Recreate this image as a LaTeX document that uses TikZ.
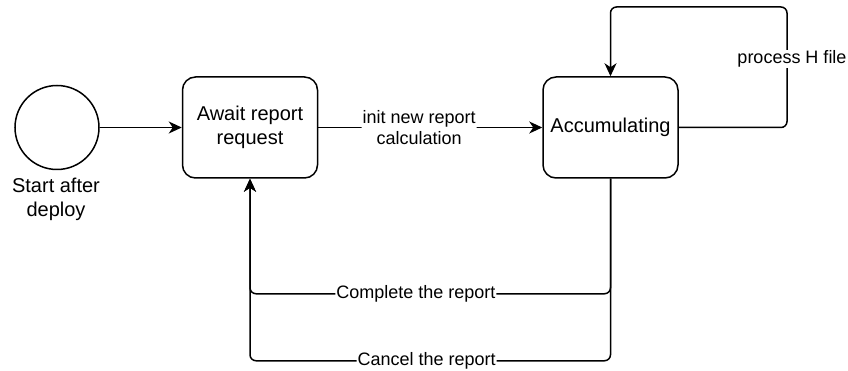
\documentclass[tikz,border=0pt]{standalone}
\usepackage{fontspec}
\setmainfont{Liberation Sans}
\usetikzlibrary{arrows.meta,positioning}

\begin{document}
\begin{tikzpicture}[x=1pt,y=-1pt,line width=1.5pt,
  stbox/.style={draw,rounded corners=13pt,minimum width=135pt,minimum height=101pt,
    align=center,font=\fontsize{20}{24}\selectfont},
  lbl/.style={fill=white,inner sep=1pt,align=center,font=\fontsize{18}{21}\selectfont},
  flow/.style={-{Stealth[length=13pt,width=12pt,inset=4pt]},rounded corners=6pt}]
  \useasboundingbox (0,0) rectangle (848,371);
  % states
  \node[draw,circle,minimum size=84pt,inner sep=0pt] (start) at (57,127.5) {};
  \node[align=center,font=\fontsize{20}{24}\selectfont] (startlbl) at (56,199) {Start after\\deploy};
  \node[stbox] (await) at (250,127.5) {Await report\\request};
  \node[stbox] (accum) at (610.5,127.5) {Accumulating};
  \coordinate (loopR) at (787,7);
  % transitions
  \draw[flow] (start) -- (await);
  \draw[flow] (await) -- node[lbl,pos=0.45] {init new report\\calculation} (accum);
  \draw[flow] (accum.east) -| (loopR) -| (accum.north);
  \node[lbl] (hlbl) at (792,59) {process H file};
  \draw[flow] (accum.south) -- ++(0,115) -| node[lbl,pos=0.27] {Complete the report} (await.south);
  \draw[flow] (accum.south) -- ++(0,182) -| node[lbl,pos=0.255] {Cancel the report} (await.south);
\end{tikzpicture}
\end{document}
